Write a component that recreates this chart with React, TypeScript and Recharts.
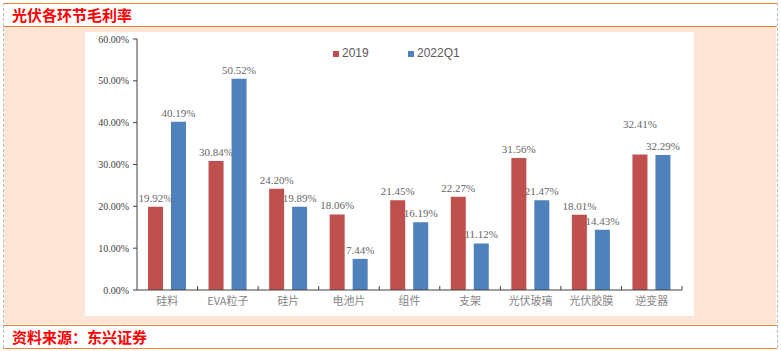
import React from 'react'
import { BarChart, Bar, XAxis, YAxis, LabelList } from 'recharts'

const categories = ['硅料', 'EVA粒子', '硅片', '电池片', '组件', '支架', '光伏玻璃', '光伏胶膜', '逆变器']
const margin2019 = [19.92, 30.84, 24.2, 18.06, 21.45, 22.27, 31.56, 18.01, 32.41]
const margin2022Q1 = [40.19, 50.52, 19.89, 7.44, 16.19, 11.12, 21.47, 14.43, 32.29]
const yTicks = [0, 10, 20, 30, 40, 50, 60]

const RED = '#C0504D'
const BLUE = '#4F81BD'
const ORANGE = '#EE7E34'
const SERIF = "'Liberation Serif', 'Times New Roman', serif"

const data = categories.map((name, i) => ({
  name,
  y2019: margin2019[i],
  y2022: margin2022Q1[i],
}))

const CHART_W = 609
const CHART_H = 284
const M = { top: 7, right: 12, left: 0, bottom: 0 }
const Y_W = 52
const BAND = (CHART_W - M.left - M.right - Y_W) / categories.length

const fmt = (v: number) => `${v.toFixed(2)}%`

function CategoryTick(props: any) {
  const { x, y, payload, index } = props
  const left = x - BAND / 2
  const right = x + BAND / 2
  return (
    <g>
      {index > 0 && <line x1={left} x2={left} y1={y} y2={y - 4} stroke="#404040" />}
      {index === categories.length - 1 && <line x1={right} x2={right} y1={y} y2={y - 4} stroke="#404040" />}
      <text
        x={x}
        y={y + 15}
        textAnchor="middle"
        fill="#858585"
        fontSize={11}
        style={{ fontFamily: "'Noto Sans CJK SC', sans-serif" }}
      >
        {payload.value}
      </text>
    </g>
  )
}

function YTick(props: any) {
  const { x, y, payload } = props
  return (
    <text x={x} y={y + 3.5} textAnchor="end" fill="#404040" fontSize={10} style={{ fontFamily: SERIF }}>
      {fmt(payload.value)}
    </text>
  )
}

// red label is lifted when it would collide with the blue one next to it
function RedLabel(props: any) {
  const { x, y, width, value, index } = props
  const close = Math.abs(margin2019[index] - margin2022Q1[index]) < 3
  return (
    <text
      x={x + width / 2}
      y={y - 5 - (close ? 21 : 0)}
      textAnchor="middle"
      fill="#666"
      fontSize={11}
      style={{ fontFamily: SERIF }}
    >
      {fmt(value)}
    </text>
  )
}

function BlueLabel(props: any) {
  const { x, y, width, value } = props
  return (
    <text x={x + width / 2} y={y - 5} textAnchor="middle" fill="#666" fontSize={11} style={{ fontFamily: SERIF }}>
      {fmt(value)}
    </text>
  )
}

const abs = (left: number, top: number, width: number, height: number, extra: React.CSSProperties = {}): React.CSSProperties => ({
  position: 'absolute',
  left,
  top,
  width,
  height,
  ...extra,
})

export default function App() {
  return (
    <div style={abs(0, 0, 781, 351, { background: '#fff', fontFamily: "'Noto Sans CJK SC', sans-serif" })}>
      {/* frame */}
      <div style={abs(3, 3, 774, 0, { borderTop: `1.5px solid ${ORANGE}` })} />
      <div style={abs(3, 3, 0, 345, { borderLeft: '1px dashed #bbb' })} />
      <div style={abs(777, 3, 0, 345, { borderLeft: '1px dashed #bbb' })} />
      <div style={abs(3, 26, 774, 0, { borderTop: `1.5px solid ${ORANGE}` })} />
      <div style={abs(4, 27, 772, 297, { background: '#FCE4D6' })} />
      <div style={abs(3, 325, 774, 0, { borderTop: `1.5px solid ${ORANGE}` })} />
      <div style={abs(3, 348, 774, 0, { borderTop: `1.5px solid ${ORANGE}` })} />

      <div style={abs(12, 4, 300, 22, { color: '#FF0000', fontWeight: 700, fontSize: 15, lineHeight: '22px' })}>
        光伏各环节毛利率
      </div>
      <div style={abs(12, 326, 300, 22, { color: '#FF0000', fontWeight: 700, fontSize: 15, lineHeight: '22px' })}>
        资料来源：东兴证券
      </div>

      {/* chart */}
      <div style={abs(85, 32, CHART_W, CHART_H, { background: '#fff' })}>
        <BarChart width={CHART_W} height={CHART_H} data={data} margin={M} barSize={15} barGap={8}>
          <YAxis
            width={Y_W}
            domain={[0, 60]}
            ticks={yTicks}
            axisLine={{ stroke: '#404040' }}
            tickLine={{ stroke: '#404040' }}
            tickSize={4}
            tickMargin={4}
            tick={<YTick />}
            interval={0}
          />
          <XAxis
            dataKey="name"
            height={26}
            axisLine={{ stroke: '#404040' }}
            tickLine={false}
            tickSize={0}
            tickMargin={0}
            tick={<CategoryTick />}
            interval={0}
          />
          <Bar dataKey="y2019" fill={RED} isAnimationActive={false}>
            <LabelList dataKey="y2019" content={<RedLabel />} />
          </Bar>
          <Bar dataKey="y2022" fill={BLUE} isAnimationActive={false}>
            <LabelList dataKey="y2022" content={<BlueLabel />} />
          </Bar>
        </BarChart>

        {/* legend */}
        <div style={abs(248, 12, 200, 16, { fontFamily: "'Liberation Sans', Arial, sans-serif", fontSize: 12, color: '#595959' })}>
          <div style={abs(0, 7, 6, 6, { background: RED })} />
          <div style={abs(9, 0, 40, 16, { lineHeight: '18px' })}>2019</div>
          <div style={abs(75, 7, 6, 6, { background: BLUE })} />
          <div style={abs(84, 0, 60, 16, { lineHeight: '18px' })}>2022Q1</div>
        </div>
      </div>
    </div>
  )
}
